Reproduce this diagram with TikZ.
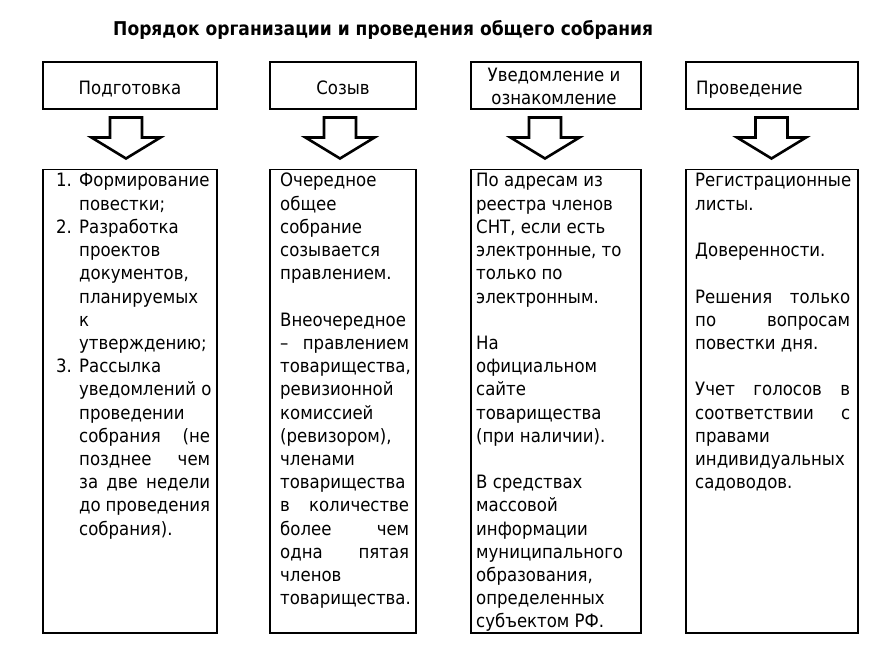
\documentclass[tikz,border=0pt]{standalone}
\usepackage{fontspec}
\setmainfont{DejaVu Sans Condensed}
\tikzset{
  ln/.style={anchor=base west, inner sep=0pt, font=\fontsize{18.4}{22}\selectfont},
  hd/.style={inner sep=0pt, font=\fontsize{18.4}{23.2}\selectfont},
  box/.style={draw, line width=1.2pt, inner sep=0pt},
  barrow/.style={draw, line width=2.6pt, fill=white, line join=miter},
}
\newcommand\Ln[4]{\node[ln] (#1) at (#2,{187+23.2*#3}) {#4};}
\newcommand\Jn[5]{\node[ln] (#1) at (#2,{187+23.2*#3}) {\makebox[#4pt][s]{#5}};}
\newcommand\BArrow[1]{\draw[barrow] (#1) ++(-16,0) -- ++(32,0) -- ++(0,20) -- ++(18.5,0) -- ++(-34.5,21) -- ++(-34.5,-21) -- ++(18.5,0) -- cycle;}
\begin{document}
\begin{tikzpicture}[x=1pt,y=-1pt]
\useasboundingbox (0,0) rectangle (877,652);
\fill[white] (0,0) rectangle (877,652);
% title
\node[anchor=base west, inner sep=0pt, font=\bfseries\fontsize{19}{22}\selectfont] (title) at (113,36) {Порядок организации и проведения общего собрания};
% header boxes
\node[box, minimum width=174pt, minimum height=47pt] (h1) at (130,85.5) {};
\node[box, minimum width=146pt, minimum height=47pt] (h2) at (343,85.5) {};
\node[box, minimum width=170pt, minimum height=47pt] (h3) at (556,85.5) {};
\node[box, minimum width=172pt, minimum height=47pt] (h4) at (772,85.5) {};
\node[hd, anchor=base] (t1) at (130,95) {Подготовка};
\node[hd, anchor=base] (t2) at (343,95) {Созыв};
\node[hd, anchor=base] (t3a) at (554,82) {Уведомление и};
\node[hd, anchor=base] (t3b) at (554,105) {ознакомление};
\node[hd, anchor=base west] (t4) at (696,95) {Проведение};
% lower boxes
\node[box, minimum width=174pt, minimum height=463.5pt] (b1) at (130,401.25) {};
\node[box, minimum width=146pt, minimum height=463.5pt] (b2) at (343,401.25) {};
\node[box, minimum width=170pt, minimum height=463.5pt] (b3) at (556,401.25) {};
\node[box, minimum width=172pt, minimum height=463.5pt] (b4) at (772,401.25) {};
% block arrows
\coordinate (a1) at (126,117.5);
\coordinate (a2) at (340,117.5);
\coordinate (a3) at (545,117.5);
\coordinate (a4) at (771.5,117.5);
\BArrow{a1}\BArrow{a2}\BArrow{a3}\BArrow{a4}
% column 1
\Ln{n1}{56}{0}{1.}
\Ln{c1l0}{79}{0}{Формирование}
\Ln{c1l1}{79}{1}{повестки;}
\Ln{n2}{56}{2}{2.}
\Ln{c1l2}{79}{2}{Разработка}
\Ln{c1l3}{79}{3}{проектов}
\Ln{c1l4}{79}{4}{документов,}
\Ln{c1l5}{79}{5}{планируемых}
\Ln{c1l6}{79}{6}{к}
\Ln{c1l7}{79}{7}{утверждению;}
\Ln{n3}{56}{8}{3.}
\Ln{c1l8}{79}{8}{Рассылка}
\Ln{c1l9}{79}{9}{уведомлений о}
\Ln{c1l10}{79}{10}{проведении}
\Jn{c1l11}{79}{11}{131}{собрания (не}
\Jn{c1l12}{79}{12}{131}{позднее чем}
\Jn{c1l13}{79}{13}{131}{за две недели}
\Jn{c1l14}{79}{14}{131}{до проведения}
\Ln{c1l15}{79}{15}{собрания).}
% column 2
\Ln{c2l0}{280}{0}{Очередное}
\Ln{c2l1}{280}{1}{общее}
\Ln{c2l2}{280}{2}{собрание}
\Ln{c2l3}{280}{3}{созывается}
\Ln{c2l4}{280}{4}{правлением.}
\Ln{c2l6}{280}{6}{Внеочередное}
\Jn{c2l7}{280}{7}{129}{– правлением}
\Ln{c2l8}{280}{8}{товарищества,}
\Ln{c2l9}{280}{9}{ревизионной}
\Ln{c2l10}{280}{10}{комиссией}
\Ln{c2l11}{280}{11}{(ревизором),}
\Ln{c2l12}{280}{12}{членами}
\Ln{c2l13}{280}{13}{товарищества}
\Jn{c2l14}{280}{14}{129}{в количестве}
\Jn{c2l15}{280}{15}{129}{более чем}
\Jn{c2l16}{280}{16}{129}{одна пятая}
\Ln{c2l17}{280}{17}{членов}
\Ln{c2l18}{280}{18}{товарищества.}
% column 3
\Ln{c3l0}{476}{0}{По адресам из}
\Ln{c3l1}{476}{1}{реестра членов}
\Ln{c3l2}{476}{2}{СНТ, если есть}
\Ln{c3l3}{476}{3}{электронные, то}
\Ln{c3l4}{476}{4}{только по}
\Ln{c3l5}{476}{5}{электронным.}
\Ln{c3l7}{476}{7}{На}
\Ln{c3l8}{476}{8}{официальном}
\Ln{c3l9}{476}{9}{сайте}
\Ln{c3l10}{476}{10}{товарищества}
\Ln{c3l11}{476}{11}{(при наличии).}
\Ln{c3l13}{476}{13}{В средствах}
\Ln{c3l14}{476}{14}{массовой}
\Ln{c3l15}{476}{15}{информации}
\Ln{c3l16}{476}{16}{муниципального}
\Ln{c3l17}{476}{17}{образования,}
\Ln{c3l18}{476}{18}{определенных}
\Ln{c3l19}{476}{19}{субъектом РФ.}
% column 4
\Ln{c4l0}{695}{0}{Регистрационные}
\Ln{c4l1}{695}{1}{листы.}
\Ln{c4l3}{695}{3}{Доверенности.}
\Jn{c4l5}{695}{5}{155}{Решения только}
\Jn{c4l6}{695}{6}{155}{по вопросам}
\Ln{c4l7}{695}{7}{повестки дня.}
\Jn{c4l9}{695}{9}{155}{Учет голосов в}
\Jn{c4l10}{695}{10}{155}{соответствии с}
\Ln{c4l11}{695}{11}{правами}
\Ln{c4l12}{695}{12}{индивидуальных}
\Ln{c4l13}{695}{13}{садоводов.}
\end{tikzpicture}
\end{document}
